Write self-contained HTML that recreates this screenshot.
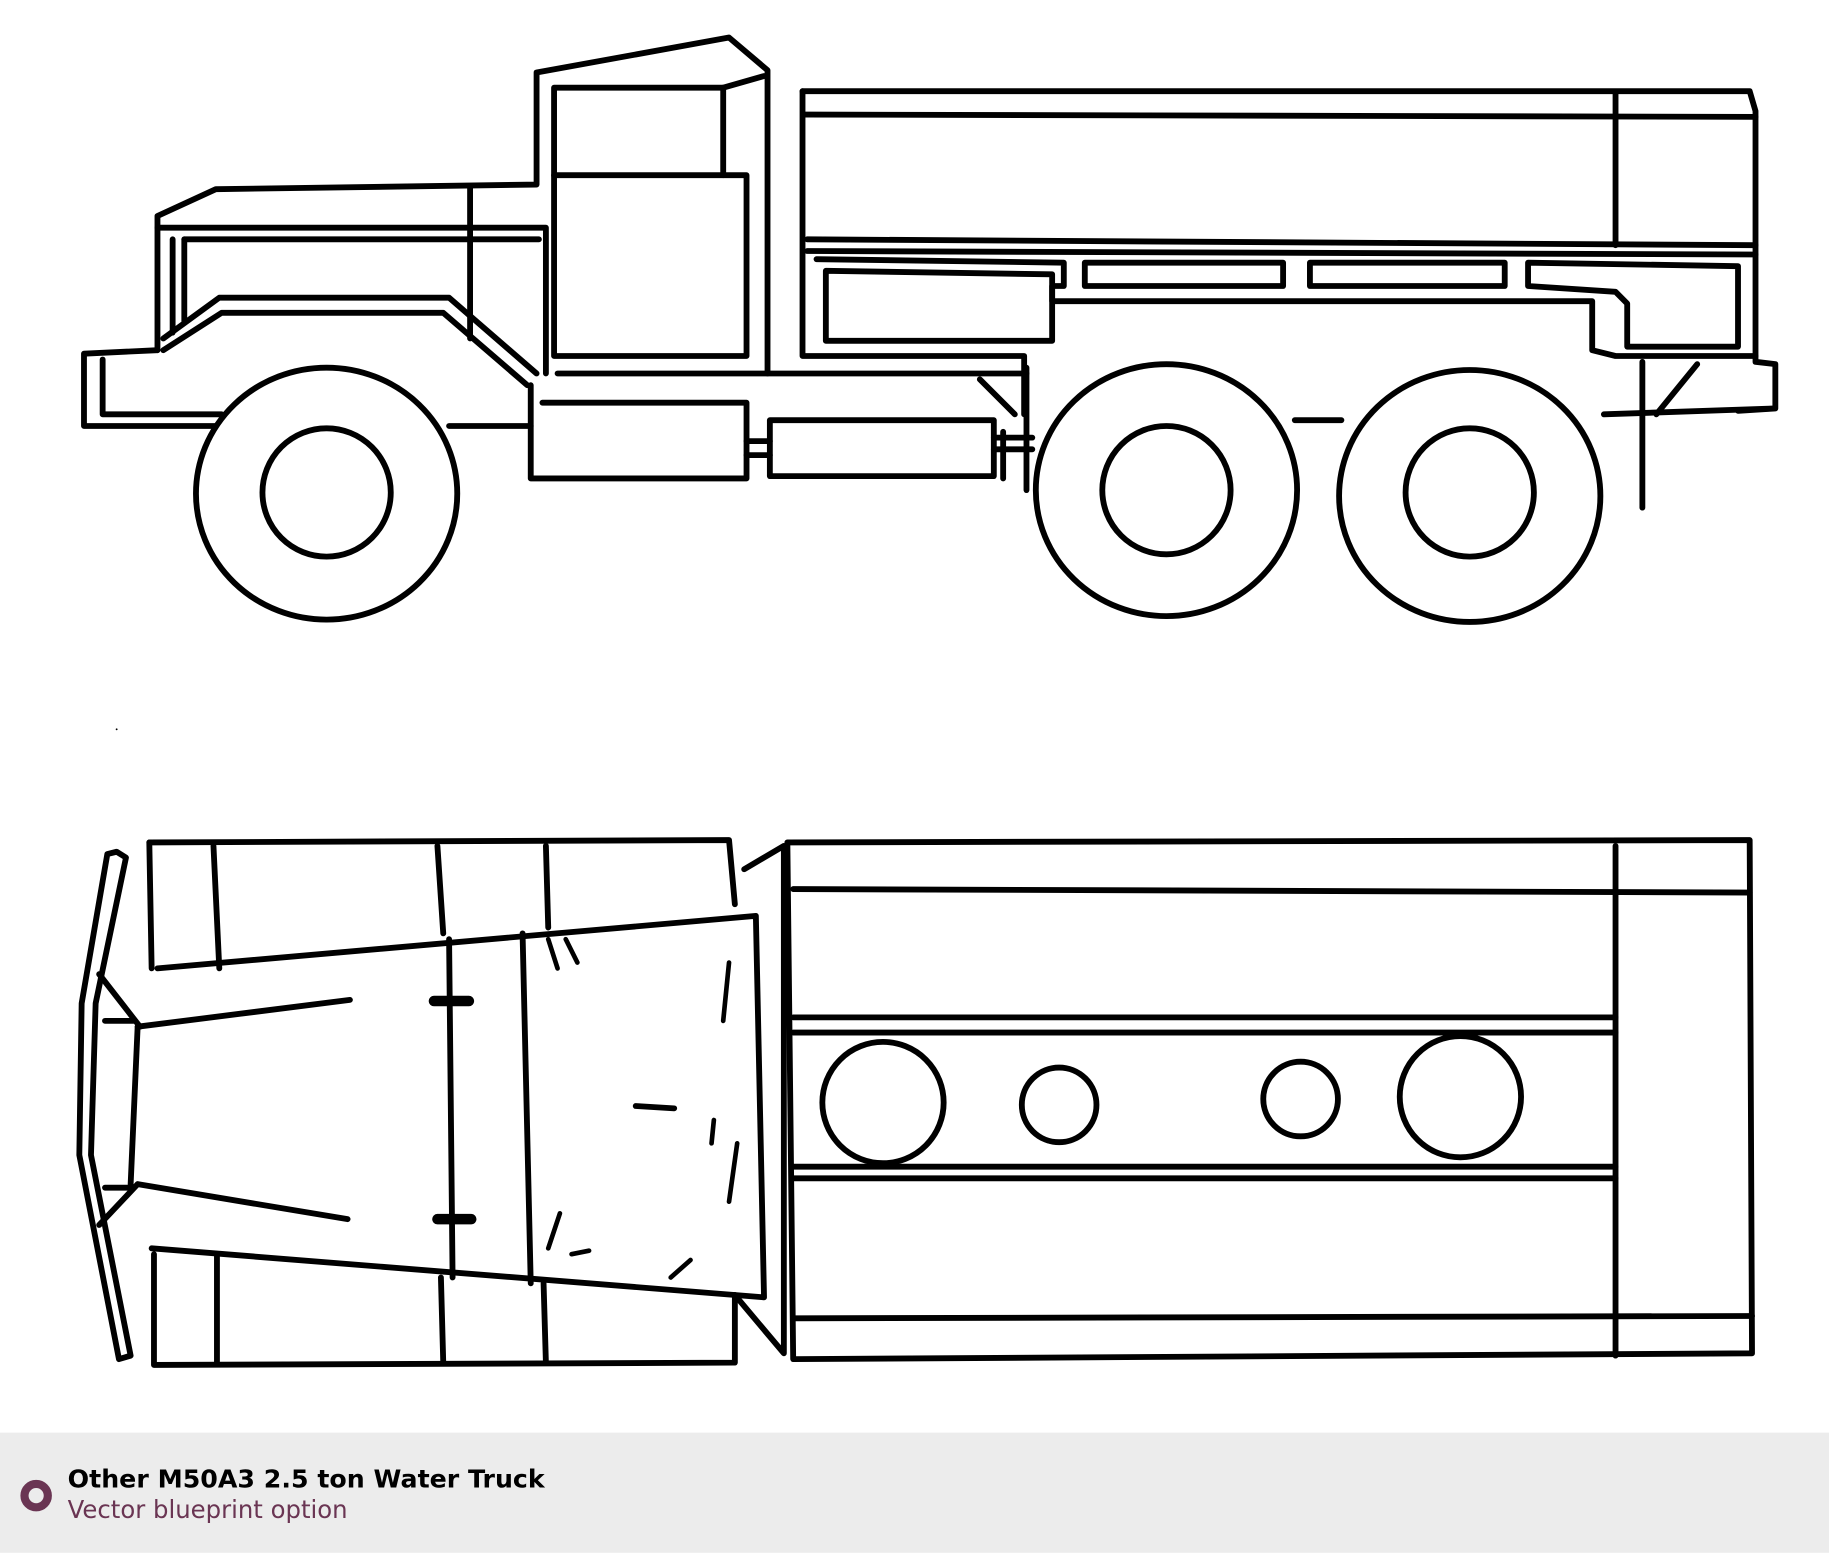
<!DOCTYPE html>
<html><head><meta charset="utf-8"><style>
html,body{margin:0;padding:0;background:#fff;width:1829px;height:1553px;overflow:hidden}
svg{display:block}
</style></head><body>
<svg width="1829" height="1553" viewBox="0 0 1568 1331" xmlns="http://www.w3.org/2000/svg">
<rect width="1568" height="1331" fill="#fff"/>
<g fill="none" stroke="#000" stroke-width="5" stroke-linejoin="round" stroke-linecap="round">
<path d="M135,300 L135,185 L185,162 L460,158 L460,62 L625,32 L658,60 L658,320"/>
<path d="M135,195 L468,195 L468,320"/>
<path d="M148,205 L148,285 M158,205 L158,275"/>
<path d="M158,205 L462,205"/>
<path d="M403,160 L403,290"/>
<path d="M140,290 L188,255 L385,255 L460,320"/>
<path d="M140,300 L190,268 L380,268 L452,330"/>
<path d="M475,75 L475,305 L640,305 L640,150 L620,150 L620,75 Z"/>
<path d="M475,150 L620,150"/>
<path d="M620,75 L655,65"/>
<path d="M478,320 L880,320"/>
<path d="M72,303 L135,300 M72,303 L72,365 L185,365"/>
<path d="M88,308 L88,355 L190,355"/>
<path d="M385,365 L455,365"/>
<path d="M455,330 L455,410 L640,410 L640,345 L465,345"/>
<path d="M640,378 L660,378 M640,390 L660,390"/>
<path d="M660,360 L660,408 L852,408 L852,360 Z"/>
<path d="M852,375 L885,375 M852,385 L885,385"/>
<path d="M860,410 L860,370 M880,420 L880,315"/>
<path d="M688,78 L1500,78 L1505,95 L1505,310 L1522,312 L1522,350 L1490,352"/>
<path d="M688,78 L688,305 L878,305 L878,355"/>
<path d="M690,98 L1505,100"/>
<path d="M1385,80 L1385,210"/>
<path d="M692,205 L1505,210"/>
<path d="M692,215 L1505,218"/>
<path d="M700,222 L912,225 L912,245 L902,245 L902,258 L1365,258 L1365,300 L1385,305 L1505,305"/>
<path d="M708,232 L902,235 L902,292 L708,292 Z"/>
<path d="M930,225 L1100,225 L1100,245 L930,245 Z"/>
<path d="M1123,225 L1290,225 L1290,245 L1123,245 Z"/>
<path d="M1310,225 L1490,228 L1490,297 L1395,297 L1395,260 L1385,250 L1310,245 Z"/>
<path d="M1110,360 L1150,360 M1375,355 L1520,350"/>
<path d="M1408,310 L1408,435 M1420,355 L1455,312 M840,325 L870,355"/>
<ellipse cx="280" cy="423" rx="112" ry="108"/>
<ellipse cx="280" cy="422" rx="55" ry="55"/>
<ellipse cx="1000" cy="420" rx="112" ry="108"/>
<ellipse cx="1000" cy="420" rx="55" ry="55"/>
<ellipse cx="1260" cy="425" rx="112" ry="108"/>
<ellipse cx="1260" cy="422" rx="55" ry="55"/>
<path d="M100,730 L108,735 L82,860 L78,990 L112,1162 L102,1165 L68,990 L70,860 L92,732 Z"/>
<path d="M128,722 L625,720 L630,775"/>
<path d="M128,722 L130,830 M132,1075 L132,1170 L630,1168 L630,1110"/>
<path d="M183,725 L188,830 M186,1075 L186,1168 M375,725 L380,800 M378,1095 L380,1168 M468,725 L470,795 M466,1100 L468,1168"/>
<path d="M135,830 L648,785 L655,1112 L130,1070"/>
<path d="M118,880 L300,857 M118,1015 L298,1045"/>
<path d="M118,880 L112,1015 M85,835 L120,880 M85,1050 L118,1015 M90,875 L115,875 M90,1018 L115,1018"/>
<path d="M385,805 L388,1095 M448,800 L455,1100"/>
<path d="M372,858 L402,858 M375,1045 L404,1045" stroke-width="9"/>
<path d="M545,948 L578,950"/>
<path d="M638,745 L672,725 L672,1160 L630,1110"/>
<path d="M675,722 L1500,720 L1502,1160 L680,1165 L675,722"/>
<path d="M680,762 L1500,765 M680,885 L1385,885 M680,872 L1385,872 M680,1000 L1385,1000 M680,1010 L1385,1010 M680,1130 L1502,1128"/>
<path d="M1385,725 L1385,1162"/>
<circle cx="757" cy="945" r="52"/>
<circle cx="908" cy="947" r="32"/>
<circle cx="1115" cy="942" r="32"/>
<circle cx="1252" cy="940" r="52"/>
<path d="M470,805 L478,830 M485,805 L495,825 M625,825 L620,875 M612,960 L610,980 M632,980 L625,1030 M480,1040 L470,1070 M490,1075 L505,1072 M575,1095 L592,1080" stroke-width="4"/>
</g>
<circle cx="100" cy="625" r="0.8" fill="#000"/>
<rect x="0" y="1228" width="1568" height="103" fill="#ececec"/>
<circle cx="31" cy="1282" r="10" fill="none" stroke="#6a3553" stroke-width="7"/>
<text x="58" y="1275" font-family="'DejaVu Sans',sans-serif" font-weight="bold" font-size="21.5" textLength="409" lengthAdjust="spacingAndGlyphs" fill="#000">Other M50A3 2.5 ton Water Truck</text>
<text x="58" y="1301" font-family="'DejaVu Sans',sans-serif" font-size="21.5" textLength="240" lengthAdjust="spacingAndGlyphs" fill="#6a3553">Vector blueprint option</text>
</svg>
</body></html>
